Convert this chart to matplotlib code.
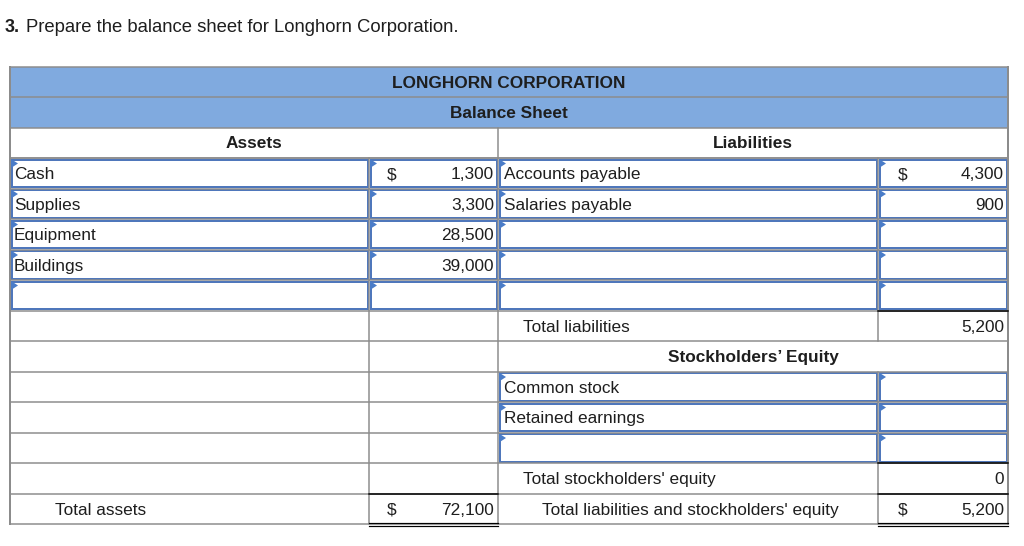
import matplotlib.pyplot as plt
from matplotlib.patches import Rectangle, Polygon

plt.rcParams["font.family"] = ["Liberation Sans", "DejaVu Sans"]

# table content
title_num = "3."
title_text = "Prepare the balance sheet for Longhorn Corporation."
company = "LONGHORN CORPORATION"
statement = "Balance Sheet"

asset_labels = ["Cash", "Supplies", "Equipment", "Buildings", ""]
asset_values = ["1,300", "3,300", "28,500", "39,000", ""]
liability_labels = ["Accounts payable", "Salaries payable", "", "", ""]
liability_values = ["4,300", "900", "", "", ""]
equity_labels = ["Common stock", "Retained earnings", ""]
equity_values = ["", "", ""]
total_liabilities = "5,200"
total_equity = "0"
total_assets = "72,100"
total_liab_equity = "5,200"

HEAD_BLUE = "#80aadf"
BOX_BLUE = "#4f77bb"
TRI_BLUE = "#4a7cc8"
GRID = "#8c8c8c"
TXT = "#1e1e1e"
FS = 12.4

fig = plt.figure(figsize=(10.24, 5.46), dpi=100)
ax = fig.add_axes([0, 0, 1, 1])
ax.set_xlim(0, 1024)
ax.set_ylim(546, 0)
ax.axis("off")

cols = [10, 369, 498, 878, 1008]
head = [67, 97, 128, 158]
row_h = 30.5
rows = [158 + i * row_h for i in range(13)]
px = 0.72  # one pixel in points

# title
ax.text(5, 27.5, title_num, fontsize=13, fontweight="bold", color=TXT, va="center")
ax.text(26, 27.5, title_text, fontsize=13.3, color=TXT, va="center")

# blue header band
ax.add_patch(Rectangle((cols[0], head[0]), cols[-1] - cols[0], head[2] - head[0],
                       facecolor=HEAD_BLUE, edgecolor="none"))
mid = (cols[0] + cols[-1]) / 2
ax.text(mid, (head[0] + head[1]) / 2 + 1, company, fontsize=FS, fontweight="bold",
        color=TXT, ha="center", va="center")
ax.text(mid, (head[1] + head[2]) / 2 + 1, statement, fontsize=FS, fontweight="bold",
        color=TXT, ha="center", va="center")
ax.text((cols[0] + cols[2]) / 2, (head[2] + head[3]) / 2 + 1, "Assets", fontsize=FS,
        fontweight="bold", color=TXT, ha="center", va="center")
ax.text((cols[2] + cols[4]) / 2, (head[2] + head[3]) / 2 + 1, "Liabilities", fontsize=FS,
        fontweight="bold", color=TXT, ha="center", va="center")

# gray grid
for y in head + rows:
    ax.plot([cols[0], cols[-1]], [y, y], color=GRID, lw=1.5 * px)
ax.plot([cols[0], cols[0]], [head[0], rows[-1]], color=GRID, lw=2 * px)
ax.plot([cols[-1], cols[-1]], [head[0], rows[-1]], color=GRID, lw=2 * px)
ax.plot([cols[2], cols[2]], [head[2], rows[-1]], color=GRID, lw=1.5 * px)
ax.plot([cols[1], cols[1]], [head[3], rows[-1]], color=GRID, lw=1.5 * px)
# right divider skips the "Stockholders' Equity" heading row
ax.plot([cols[3], cols[3]], [head[3], rows[6]], color=GRID, lw=1.5 * px)
ax.plot([cols[3], cols[3]], [rows[7], rows[-1]], color=GRID, lw=1.5 * px)


def input_box(c, r):
    x0, x1 = cols[c] + 1.5, cols[c + 1] - 1.5
    y0, y1 = rows[r] + 1.5, rows[r + 1] - 1.5
    ax.add_patch(Rectangle((x0, y0), x1 - x0, y1 - y0, facecolor="white",
                           edgecolor=BOX_BLUE, lw=2 * px))
    ax.add_patch(Polygon([(x0 - 0.5, y0 - 0.5), (x0 + 6.5, y0 + 4), (x0 - 0.5, y0 + 8.5)],
                         closed=True, facecolor=TRI_BLUE, edgecolor="none"))


def cell_mid(r):
    return (rows[r] + rows[r + 1]) / 2 + 1.5


# asset / liability input rows
for i in range(len(asset_labels)):
    for c in range(4):
        input_box(c, i)
    y = cell_mid(i)
    ax.text(cols[0] + 4, y, asset_labels[i], fontsize=FS, color=TXT, va="center")
    ax.text(cols[2] - 4, y, asset_values[i], fontsize=FS, color=TXT, ha="right", va="center")
    ax.text(cols[2] + 6, y, liability_labels[i], fontsize=FS, color=TXT, va="center")
    ax.text(cols[4] - 4, y, liability_values[i], fontsize=FS, color=TXT, ha="right", va="center")
ax.text(cols[1] + 23, cell_mid(0), "$", fontsize=FS, color=TXT, ha="center", va="center")
ax.text(cols[3] + 25, cell_mid(0), "$", fontsize=FS, color=TXT, ha="center", va="center")

# total liabilities
ax.text(cols[2] + 25, cell_mid(5), "Total liabilities", fontsize=FS, color=TXT, va="center")
ax.text(cols[4] - 4, cell_mid(5), total_liabilities, fontsize=FS, color=TXT,
        ha="right", va="center")
ax.plot([cols[3], cols[4]], [rows[5], rows[5]], color="black", lw=1.5 * px)

# equity section
ax.text((cols[2] + cols[4]) / 2, cell_mid(6), "Stockholders\u2019 Equity", fontsize=FS,
        fontweight="bold", color=TXT, ha="center", va="center")
for j in range(len(equity_labels)):
    r = 7 + j
    input_box(2, r)
    input_box(3, r)
    ax.text(cols[2] + 6, cell_mid(r), equity_labels[j], fontsize=FS, color=TXT, va="center")
    ax.text(cols[4] - 4, cell_mid(r), equity_values[j], fontsize=FS, color=TXT,
            ha="right", va="center")

ax.text(cols[2] + 25, cell_mid(10), "Total stockholders' equity", fontsize=FS,
        color=TXT, va="center")
ax.text(cols[4] - 4, cell_mid(10), total_equity, fontsize=FS, color=TXT,
        ha="right", va="center")
ax.plot([cols[3], cols[4]], [rows[10], rows[10]], color="black", lw=1.5 * px)

# totals row
ax.text(55, cell_mid(11), "Total assets", fontsize=FS, color=TXT, va="center")
ax.text(cols[1] + 23, cell_mid(11), "$", fontsize=FS, color=TXT, ha="center", va="center")
ax.text(cols[2] - 4, cell_mid(11), total_assets, fontsize=FS, color=TXT,
        ha="right", va="center")
ax.text((cols[2] + cols[3]) / 2 + 2, cell_mid(11), "Total liabilities and stockholders' equity",
        fontsize=FS, color=TXT, ha="center", va="center")
ax.text(cols[3] + 25, cell_mid(11), "$", fontsize=FS, color=TXT, ha="center", va="center")
ax.text(cols[4] - 4, cell_mid(11), total_liab_equity, fontsize=FS, color=TXT,
        ha="right", va="center")
for c in (1, 3):
    ax.plot([cols[c], cols[c + 1]], [rows[11], rows[11]], color="black", lw=1.5 * px)
    ax.plot([cols[c], cols[c + 1]], [rows[12] - 1, rows[12] - 1], color="black", lw=1.2 * px)
    ax.plot([cols[c], cols[c + 1]], [rows[12] + 2, rows[12] + 2], color="black", lw=1.2 * px)

fig.savefig("out.png", dpi=100)
